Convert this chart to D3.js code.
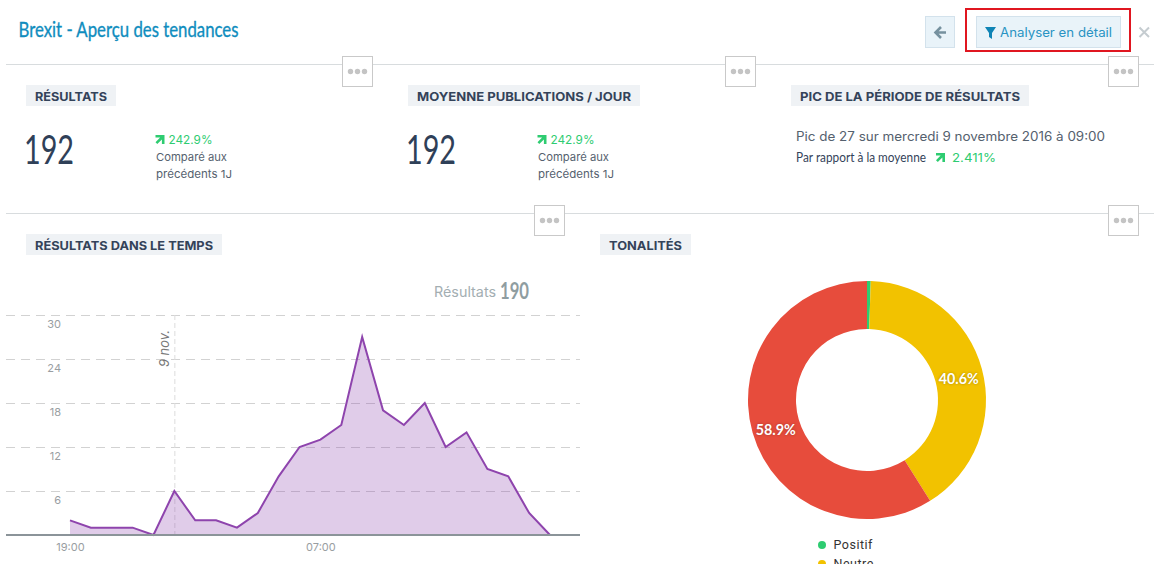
<!DOCTYPE html>
<html>
<head>
<meta charset="utf-8">
<script src="https://cdnjs.cloudflare.com/ajax/libs/d3/7.8.5/d3.min.js"></script>
<style>
body { margin: 0; background: #fff; overflow: hidden; }
svg { display: block; }
</style>
</head>
<body>
<div id="chart"></div>
<script>
// values
var hours = ["19:00", "20:00", "21:00", "22:00", "23:00", "00:00", "01:00", "02:00",
    "03:00", "04:00", "05:00", "06:00", "07:00", "08:00", "09:00", "10:00",
    "11:00", "12:00", "13:00", "14:00", "15:00", "16:00", "17:00", "18:00"];
var results = [2, 1, 1, 1, 0, 6, 2, 2, 1, 3, 8, 12, 13, 15, 27, 17, 15, 18, 12, 14, 9, 8, 3, 0];
var yTicks = [6, 12, 18, 24, 30];
var xTicks = ["19:00", "07:00"];
var dayMark = "00:00";
var tones = ["Positif", "Neutre", "Négatif"];
var toneShares = [0.5, 40.6, 58.9];
var legendTones = ["Positif", "Neutre"];
var toneColors = ["#2ecc71", "#f2c200", "#e74c3c"];

var body = "'Inter', 'Open Sans', sans-serif";
var narrow = "'Lato', 'Open Sans', sans-serif";

var svg = d3.select("#chart")
    .append("svg")
    .attr("width", 1162)
    .attr("height", 564);

function label(str, x, y, size, color, width, opts) {
    opts = opts || {};
    var t = svg.append("text")
        .attr("x", x)
        .attr("y", y)
        .attr("font-family", opts.family || body)
        .attr("font-size", size)
        .attr("font-weight", opts.weight || 400)
        .attr("fill", color)
        .text(str);
    if (width) {
        t.attr("textLength", width).attr("lengthAdjust", "spacingAndGlyphs");
    }
    if (opts.stroke) {
        t.attr("stroke", color).attr("stroke-width", opts.stroke);
    }
    return t;
}

function tag(str, x, y, w) {
    svg.append("rect").attr("x", x).attr("y", y).attr("width", w).attr("height", 21).attr("fill", "#eff2f5");
    label(str, x + 9, y + 16, 12, "#34435a", w - 18, { weight: 700 });
}

function dots(x, y) {
    svg.append("rect").attr("x", x + 0.5).attr("y", y + 0.5).attr("width", 30).attr("height", 30)
        .attr("fill", "#fff").attr("stroke", "#c9c9c9");
    svg.append("g").selectAll("circle").data([8, 15, 22]).enter().append("circle")
        .attr("cx", function(d) { return x + d + 0.5; })
        .attr("cy", y + 15.5)
        .attr("r", 2.7)
        .attr("fill", "#c4c4c4");
}

function upArrow(x, y) {
    svg.append("path")
        .attr("transform", "translate(" + x + "," + y + ")")
        .attr("d", "M0,0H9V9H6.4V4.4L1.8,9L0,7.2L4.6,2.6H0Z")
        .attr("fill", "#2ecc71");
}

// header
label("Brexit - Aperçu des tendances", 18.5, 37, 21, "#0f8dbe", 220, { family: narrow, weight: 400, stroke: 0.35 });

svg.append("rect").attr("x", 925.5).attr("y", 16.5).attr("width", 29).attr("height", 31)
    .attr("fill", "#e9f3f9").attr("stroke", "#d3e2ec");
svg.append("path").attr("d", "M946,32.5H937M941,27L935.5,32.5L941,38")
    .attr("fill", "none").attr("stroke", "#76919f").attr("stroke-width", 2.6);

svg.append("rect").attr("x", 976.5).attr("y", 16.5).attr("width", 144).attr("height", 31)
    .attr("fill", "#e9f3f9").attr("stroke", "#d3e2ec");
svg.append("path").attr("d", "M985,27H996L992,33V39L989,37V33Z").attr("fill", "#0f84b5");
label("Analyser en détail", 1000, 37, 12.5, "#2a93c3", 112);
svg.append("rect").attr("x", 966).attr("y", 9).attr("width", 164).attr("height", 42)
    .attr("fill", "none").attr("stroke", "#e01620").attr("stroke-width", 2);
svg.append("path").attr("d", "M1139.5,27.5L1149,37M1149,27.5L1139.5,37")
    .attr("fill", "none").attr("stroke", "#c5ccd0").attr("stroke-width", 2);

// separators
svg.append("line").attr("x1", 6).attr("x2", 1154).attr("y1", 64.5).attr("y2", 64.5).attr("stroke", "#d8dcde");
svg.append("line").attr("x1", 6).attr("x2", 1154).attr("y1", 213.5).attr("y2", 213.5).attr("stroke", "#d8dcde");
dots(342, 56);
dots(725, 56);
dots(1108, 56);
dots(534, 205);
dots(1108, 205);

// top row
tag("RÉSULTATS", 26, 85, 90);
tag("MOYENNE PUBLICATIONS / JOUR", 408, 85, 232);
tag("PIC DE LA PÉRIODE DE RÉSULTATS", 791, 85, 238);

[26, 408].forEach(function(x) {
    label("192", x - 2, 164, 41, "#2f4058", 50, { family: narrow });
    upArrow(x + 129.5, 135);
    label("242.9%", x + 142.5, 144, 11.5, "#2ecc71", 44);
    label("Comparé aux", x + 130, 161, 11, "#55616e", 71);
    label("précédents 1J", x + 130, 178, 11, "#55616e", 76);
});

label("Pic de 27 sur mercredi 9 novembre 2016 à 09:00", 796, 141, 12.5, "#55616e", 309);
label("Par rapport à la moyenne", 796, 162, 14, "#34435a", 130, { family: narrow });
upArrow(936, 153);
label("2.411%", 952, 162, 12, "#2ecc71", 44);

// line chart
tag("RÉSULTATS DANS LE TEMPS", 26, 234, 196);

var x = d3.scalePoint().domain(hours).range([70, 550]);
var y = d3.scaleLinear().domain([0, 30]).range([535, 315]);

var grid = svg.append("g")
    .attr("transform", "translate(6,0)")
    .call(d3.axisRight(y).tickValues(yTicks).tickSize(574).tickFormat(""));
grid.select(".domain").remove();
grid.selectAll("line").attr("stroke", "#d2d2d2").attr("stroke-dasharray", "9,6");

var yAxis = svg.append("g")
    .attr("transform", "translate(61,9)")
    .call(d3.axisLeft(y).tickValues(yTicks).tickSize(0).tickPadding(0));
yAxis.select(".domain").remove();
yAxis.selectAll("text").attr("font-family", body).attr("font-size", 11).attr("fill", "#999ea2");

svg.append("line")
    .attr("x1", x(dayMark) + 0.5).attr("x2", x(dayMark) + 0.5)
    .attr("y1", 315).attr("y2", 535)
    .attr("stroke", "#dcdcdc").attr("stroke-dasharray", "5,3");
svg.append("text")
    .attr("transform", "translate(" + (x(dayMark) - 5) + ",367) rotate(-90)")
    .attr("font-family", body).attr("font-size", 13).attr("font-style", "italic").attr("fill", "#777")
    .attr("textLength", 37).attr("lengthAdjust", "spacingAndGlyphs")
    .text("9 nov.");

var area = d3.area()
    .x(function(d, i) { return x(hours[i]); })
    .y0(y(0))
    .y1(function(d) { return y(d); });
var line = d3.line()
    .x(function(d, i) { return x(hours[i]); })
    .y(function(d) { return y(d); });

svg.append("path").datum(results).attr("d", area).attr("fill", "#8e44ad").attr("fill-opacity", 0.27);
svg.append("path").datum(results).attr("d", line)
    .attr("fill", "none").attr("stroke", "#8e44ad").attr("stroke-width", 2);

var xAxis = svg.append("g")
    .attr("transform", "translate(0,535)")
    .call(d3.axisBottom(x).tickValues(xTicks).tickSize(0).tickPadding(8));
xAxis.select(".domain").remove();
xAxis.selectAll("text").attr("font-family", body).attr("font-size", 11).attr("fill", "#999ea2");

svg.append("line").attr("x1", 6).attr("x2", 580).attr("y1", 535).attr("y2", 535)
    .attr("stroke", "#8b9499").attr("stroke-width", 2);

label("Résultats", 434, 297, 14, "#a3aeb2", 62);
label(d3.sum(results), 500, 299, 23, "#8f9da1", 29, { family: narrow, weight: 700 });

// donut
tag("TONALITÉS", 600, 234, 91);

var pie = d3.pie().sort(null);
var arc = d3.arc().innerRadius(71).outerRadius(119);
var color = d3.scaleOrdinal().domain(tones).range(toneColors);

var donut = svg.append("g").attr("transform", "translate(867,400)");
donut.selectAll("path")
    .data(pie(toneShares))
    .enter()
    .append("path")
    .attr("d", arc)
    .attr("fill", function(d, i) { return color(tones[i]); });
donut.selectAll("text")
    .data(pie(toneShares).filter(function(d) { return d.value > 5; }))
    .enter()
    .append("text")
    .attr("transform", function(d) { return "translate(" + arc.centroid(d) + ")"; })
    .attr("dy", "0.55em")
    .attr("text-anchor", "middle")
    .attr("font-family", narrow)
    .attr("font-size", 15.5)
    .attr("font-weight", 700)
    .attr("fill", "#fff")
    .attr("textLength", 40)
    .attr("lengthAdjust", "spacingAndGlyphs")
    .style("text-shadow", "0 0 3px rgba(0,0,0,0.3)")
    .text(function(d) { return d.value.toFixed(1) + "%"; });

var legend = svg.append("g").selectAll("g")
    .data(legendTones)
    .enter()
    .append("g")
    .attr("transform", function(d, i) { return "translate(822," + (545 + i * 19) + ")"; });
legend.append("circle").attr("r", 4).attr("fill", function(d) { return color(d); });
legend.append("text")
    .attr("x", 11.5).attr("y", 4)
    .attr("font-family", "'Roboto', sans-serif").attr("font-size", 12.5).attr("letter-spacing", 0.5)
    .attr("fill", "#333")
    .text(function(d) { return d; });
</script>
</body>
</html>
